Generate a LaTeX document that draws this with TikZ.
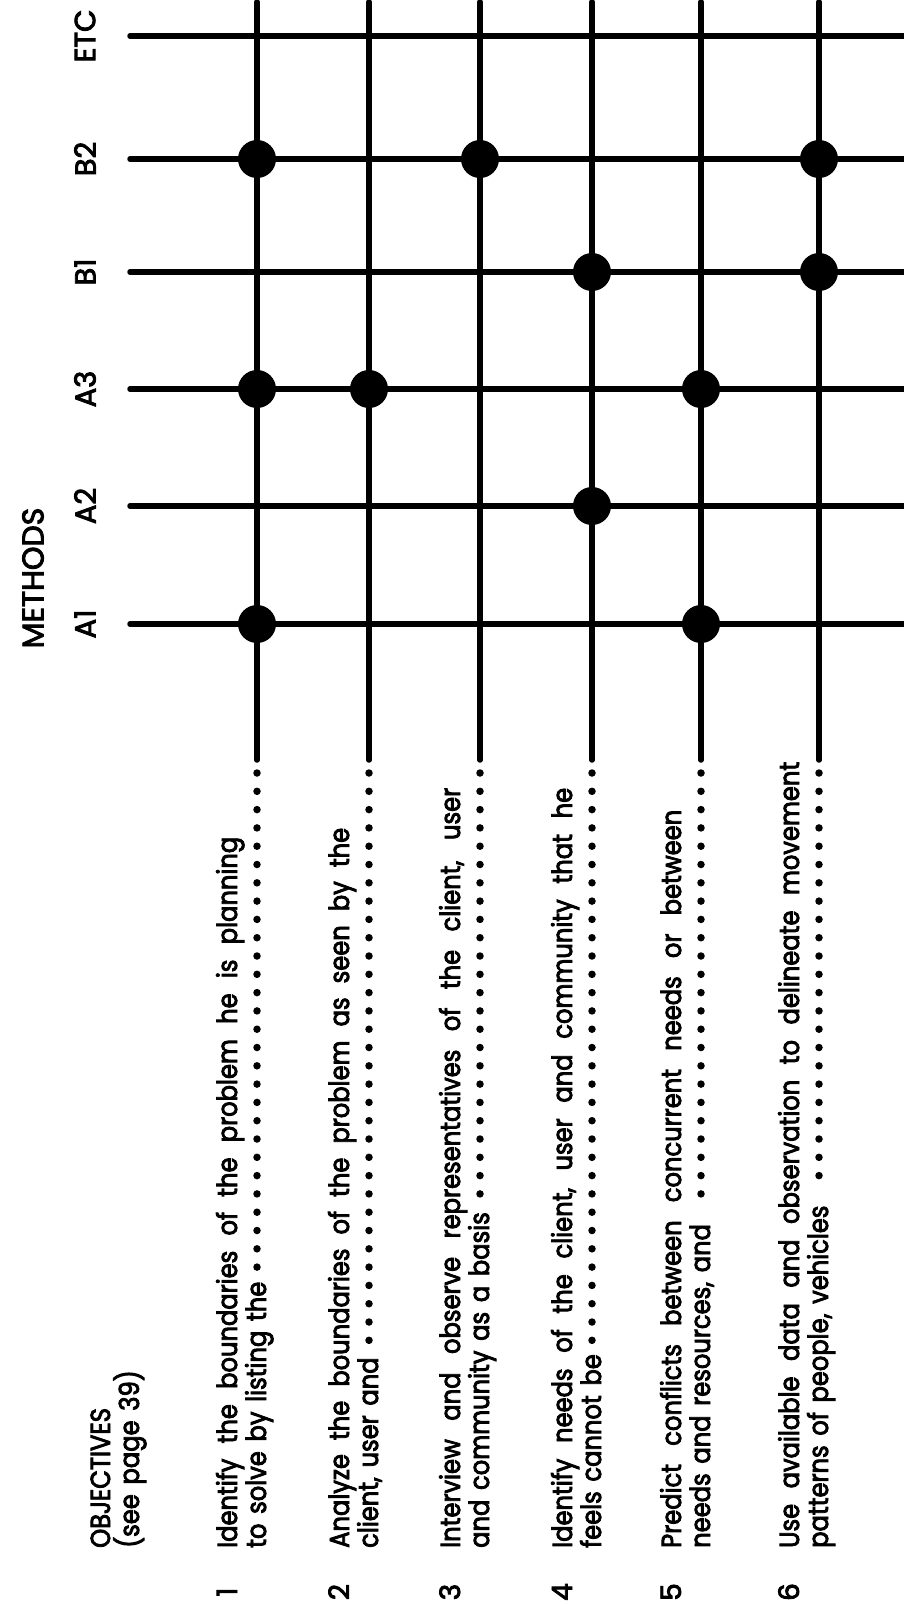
\documentclass[tikz,border=0pt]{standalone}
\usepackage{fontspec}
\newfontfamily\pop[FakeBold=3]{Poppins}
\newfontfamily\popn[FakeBold=3, FakeStretch=0.88, WordSpace=1.5]{Poppins}
\usetikzlibrary{calc}
\begin{document}
\begin{tikzpicture}[x=1pt,y=-1pt,
  gridline/.style={line width=5.5pt, line cap=round},
  leader/.style={line width=7.5pt, line cap=round, dash pattern=on 0pt off 18.3pt},
  bigdot/.style={circle, fill=black, inner sep=0pt, minimum size=38pt},
  lab/.style={font=\pop\fontsize{29}{30}\selectfont, rotate=90, inner sep=0pt},
  objtxt/.style={font=\popn\fontsize{27.5}{29}\selectfont, rotate=90, anchor=base west, inner sep=0pt},
  numtxt/.style={font=\pop\fontsize{28}{29}\selectfont, rotate=90, anchor=base, inner sep=0pt}]
\useasboundingbox (0,0) rectangle (904,1604);
% method lines
\foreach \n/\y in {ETC/36, B2/159, B1/272, A3/389, A2/506, A1/624} {
  \coordinate (\n l) at (130,\y);
  \coordinate (\n r) at (906,\y);
  \draw[gridline] (\n l) -- (\n r);
  \node[lab] (lab\n) at (85,\y) {\n};
}
\node[lab, font=\pop\fontsize{30}{30}\selectfont] (methods) at (33,578) {METHODS};
% objective lines
\foreach \i/\x in {1/257, 2/369, 3/480, 4/592, 5/701, 6/819} {
  \coordinate (top\i) at (\x,2);
  \coordinate (bot\i) at (\x,760);
  \coordinate (s\i) at (\x,773);
  \draw[gridline] (top\i) -- (bot\i);
}
% intersections
\foreach \i/\m in {1/B2, 1/A3, 1/A1, 2/A3, 3/B2, 4/B1, 4/A2, 5/A3, 5/A1, 6/B2, 6/B1} {
  \node[bigdot] (d\i\m) at (top\i |- \m l) {};
}
% objectives heading
\node[objtxt] (objh) at (110,1548) {OBJECTIVES};
\node[objtxt] (objp) at (139,1548) {(see page 39)};
% objective texts
\node[numtxt] (n1) at (237,1592) {1};
\node[objtxt] (t11) at (237,1548) {\makebox[711pt][s]{Identify the boundaries of the problem he is planning}};
\node[objtxt] (t12) at (266,1548) {to solve by listing the};
\node[numtxt] (n2) at (349,1592) {2};
\node[objtxt] (t21) at (349,1548) {\makebox[720pt][s]{Analyze the boundaries of the problem as seen by the}};
\node[objtxt] (t22) at (378,1548) {client, user and};
\node[numtxt] (n3) at (460,1592) {3};
\node[objtxt] (t31) at (460,1548) {\makebox[760pt][s]{Interview and observe representatives of the client, user}};
\node[objtxt] (t32) at (489,1548) {and community as a basis};
\node[numtxt] (n4) at (572,1592) {4};
\node[objtxt] (t41) at (572,1548) {\makebox[760pt][s]{Identify needs of the client, user and community that he}};
\node[objtxt] (t42) at (601,1548) {feels cannot be};
\node[numtxt] (n5) at (681,1592) {5};
\node[objtxt] (t51) at (681,1548) {\makebox[738pt][s]{Predict conflicts between concurrent needs or between}};
\node[objtxt] (t52) at (710,1548) {needs and resources, and};
\node[numtxt] (n6) at (799,1592) {6};
\node[objtxt] (t61) at (799,1548) {\makebox[786pt][s]{Use available data and observation to delineate movement}};
\node[objtxt] (t62) at (828,1548) {patterns of people, vehicles};
% leaders
\foreach \i in {1,...,6} {
  \draw[leader] (s\i) -- ($(s\i |- t\i2.east)+(0,-12)$);
}
\end{tikzpicture}
\end{document}
